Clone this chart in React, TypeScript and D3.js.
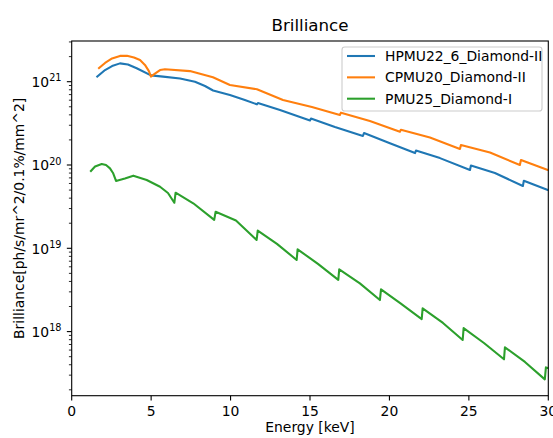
import React from "react";
import * as d3 from "d3";

// HPMU22_6_Diamond-II
const energyHP = [1.61, 2.1, 2.54, 3.04, 3.54, 4.09, 4.99, 5.75, 6.82, 7.76, 8.39, 8.9, 9.96, 10.9, 11.66, 11.72, 13.11, 15.0, 15.06, 16.57, 18.33, 18.4, 20.03, 21.61, 21.67, 23.18, 25.07, 25.13, 26.64, 28.4, 28.46, 29.97, 30.2];
const brillHP = [1.15e21, 1.38e21, 1.54e21, 1.66e21, 1.61e21, 1.45e21, 1.19e21, 1.15e21, 1.09e21, 1.0e21, 8.88e20, 7.84e20, 6.92e20, 6.03e20, 5.35e20, 5.55e20, 4.57e20, 3.42e20, 3.61e20, 2.86e20, 2.23e20, 2.42e20, 1.82e20, 1.39e20, 1.49e20, 1.21e20, 8.71e19, 9.86e19, 8.02e19, 5.6e19, 6.48e19, 5.01e19, 4.95e19];

// CPMU20_Diamond-II
const energyCP = [1.72, 2.1, 2.54, 3.04, 3.48, 3.92, 4.3, 4.61, 4.86, 4.99, 5.24, 5.56, 5.87, 7.44, 8.89, 9.96, 11.66, 13.3, 15.12, 16.88, 16.95, 18.77, 20.66, 20.72, 22.55, 24.44, 24.5, 26.33, 28.21, 28.28, 29.97, 30.2];
const brillCP = [1.46e21, 1.68e21, 1.9e21, 2.04e21, 2.05e21, 1.95e21, 1.82e21, 1.59e21, 1.34e21, 1.15e21, 1.25e21, 1.38e21, 1.41e21, 1.34e21, 1.13e21, 9.12e20, 8.11e20, 6.03e20, 4.97e20, 3.98e20, 4.25e20, 3.37e20, 2.51e20, 2.65e20, 2.14e20, 1.56e20, 1.74e20, 1.41e20, 1.0e20, 1.15e20, 8.71e19, 8.6e19];

// PMU25_Diamond-I
const energyPM = [1.21, 1.47, 1.89, 2.16, 2.41, 2.6, 2.79, 3.35, 3.88, 4.72, 5.56, 6.06, 6.46, 6.54, 7.65, 8.97, 9.06, 10.34, 11.64, 11.71, 12.92, 14.16, 14.22, 15.5, 16.78, 16.84, 18.14, 19.4, 19.47, 20.72, 22.03, 22.09, 23.37, 24.61, 24.67, 25.95, 27.21, 27.27, 28.53, 29.78, 29.85, 29.97, 30.2];
const brillPM = [8.47e19, 9.6e19, 1.03e20, 1.0e20, 9.12e19, 8.02e19, 6.43e19, 6.89e19, 7.45e19, 6.61e19, 5.48e19, 4.61e19, 3.52e19, 4.65e19, 3.47e19, 2.19e19, 2.75e19, 2.16e19, 1.26e19, 1.63e19, 1.13e19, 7.24e18, 9.73e18, 6.49e18, 4.17e18, 5.6e18, 3.79e18, 2.39e18, 3.22e18, 2.17e18, 1.41e18, 1.9e18, 1.27e18, 7.93e17, 1.1e18, 7.3e17, 4.65e17, 6.48e17, 4.32e17, 2.67e17, 3.72e17, 3.66e17, 3.6e17];

const seriesNames = ["HPMU22_6_Diamond-II", "CPMU20_Diamond-II", "PMU25_Diamond-I"];
const seriesColors = ["#1f77b4", "#ff7f0e", "#2ca02c"];
const xTicks = [0, 5, 10, 15, 20, 25, 30];
const yMajorExps = [18, 19, 20, 21];

const W = 553;
const H = 438;
const L = 71.7, R = 548.3, T = 41, B = 395.7;
const FONT = "'DejaVu Sans', sans-serif";

export default function App() {
  const x = d3.scaleLinear().domain([0, 30]).range([L, R]);
  const y = d3.scaleLog().domain([1.7e17, 3.08e21]).range([B, T]);

  const series = [
    { e: energyHP, b: brillHP },
    { e: energyCP, b: brillCP },
    { e: energyPM, b: brillPM },
  ];
  const line = d3
    .line<[number, number]>()
    .x((d) => x(d[0]))
    .y((d) => y(d[1]));

  const minors: number[] = [];
  for (let k = 17; k <= 21; k++) {
    for (let m = 2; m <= 9; m++) {
      const v = m * Math.pow(10, k);
      if (v >= 1.7e17 && v <= 3.08e21) minors.push(v);
    }
  }

  return (
    <svg
      width={W}
      height={H}
      style={{ position: "absolute", left: 0, top: 0, background: "#fff" }}
      fontFamily={FONT}
    >
      <defs>
        <clipPath id="plotclip">
          <rect x={L} y={T} width={R - L} height={B - T} />
        </clipPath>
      </defs>
      <rect x={0} y={0} width={W} height={H} fill="#fff" />

      <g clipPath="url(#plotclip)">
        {series.map((s, i) => (
          <path
            key={i}
            d={line(s.e.map((e, j) => [e, s.b[j]] as [number, number])) || ""}
            fill="none"
            stroke={seriesColors[i]}
            strokeWidth={2.08}
            strokeLinejoin="round"
            strokeLinecap="square"
          />
        ))}
      </g>

      {/* spines */}
      <rect x={L} y={T} width={R - L} height={B - T} fill="none" stroke="#000" strokeWidth={1.1} />

      {/* x ticks */}
      {xTicks.map((t) => (
        <g key={t}>
          <line x1={x(t)} x2={x(t)} y1={B} y2={B + 4.86} stroke="#000" strokeWidth={1.1} />
          <text x={x(t)} y={416} textAnchor="middle" fontSize={13.9} fill="#000">
            {t}
          </text>
        </g>
      ))}
      <text x={(L + R) / 2} y={432} textAnchor="middle" fontSize={13.9} fill="#000">
        Energy [keV]
      </text>

      {/* y ticks */}
      {minors.map((v, i) => (
        <line key={i} x1={L - 2.78} x2={L} y1={y(v)} y2={y(v)} stroke="#000" strokeWidth={0.83} />
      ))}
      {yMajorExps.map((k) => {
        const yy = y(Math.pow(10, k));
        return (
          <g key={k}>
            <line x1={L - 4.86} x2={L} y1={yy} y2={yy} stroke="#000" strokeWidth={1.1} />
            <text x={61.5} y={yy + 5.4} textAnchor="end" fontSize={13.9} fill="#000">
              10
              <tspan fontSize={9.7} dy={-5.6}>
                {k}
              </tspan>
            </text>
          </g>
        );
      })}
      <text
        transform={`translate(24,${(T + B) / 2}) rotate(-90)`}
        textAnchor="middle"
        fontSize={13.9}
        fill="#000"
      >
        Brilliance[ph/s/mr^2/0.1%/mm^2]
      </text>

      {/* title */}
      <text x={(L + R) / 2} y={31} textAnchor="middle" fontSize={16.7} fill="#000">
        Brilliance
      </text>

      {/* legend */}
      <rect x={342} y={47} width={200} height={64} rx={2.8} fill="#fff" fillOpacity={0.8} stroke="#cccccc" strokeWidth={1.1} />
      {seriesNames.map((n, i) => {
        const cy = 56 + i * 21.35;
        return (
          <g key={n}>
            <line x1={347} x2={375} y1={cy} y2={cy} stroke={seriesColors[i]} strokeWidth={2.08} />
            <text x={385} y={cy + 5} fontSize={13.9} fill="#000">
              {n}
            </text>
          </g>
        );
      })}
    </svg>
  );
}
